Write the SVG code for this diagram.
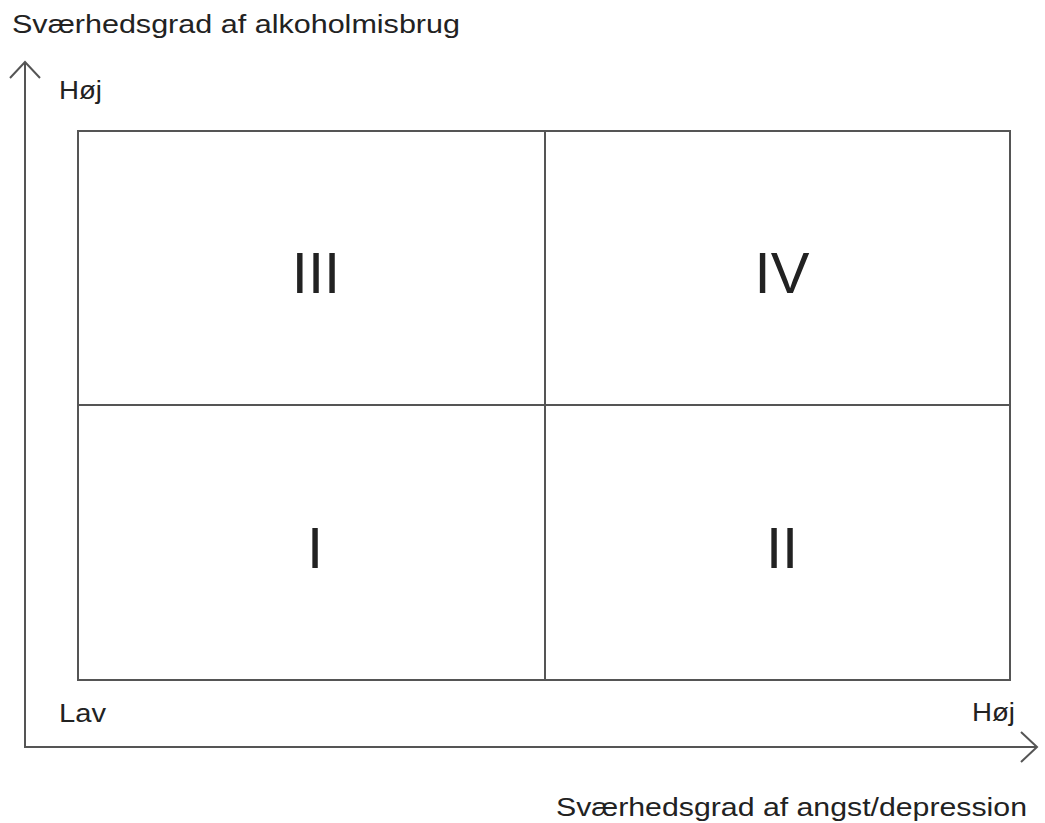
<svg xmlns="http://www.w3.org/2000/svg" width="1045" height="823" viewBox="0 0 1045 823">
<style>
text{font-family:"Liberation Sans",Arial,sans-serif;fill:#222}
.lbl{font-size:26px}
.num{font-size:58px;text-anchor:middle}
.ln{stroke:#555;stroke-width:2;fill:none}
</style>
<rect width="1045" height="823" fill="#fff"/>
<g id="connectors">
<polyline class="ln" points="25,62 25,747 1037,747"/>
<polyline class="ln" points="10,78 25,62 40,78"/>
<polyline class="ln" points="1021,732 1037,747 1021,762"/>
</g>
<g id="grid">
<rect class="ln" x="78" y="131" width="932" height="549"/>
<line class="ln" x1="545" y1="131" x2="545" y2="680"/>
<line class="ln" x1="78" y1="405" x2="1010" y2="405"/>
</g>
<g id="q3"><text class="num" x="316" y="293">III</text></g>
<g id="q4"><text class="num" x="782" y="293">IV</text></g>
<g id="q1"><text class="num" x="315" y="568">I</text></g>
<g id="q2"><text class="num" x="782" y="568">II</text></g>
<g id="labels">
<text class="lbl" x="12" y="33" textLength="448" lengthAdjust="spacingAndGlyphs">Sværhedsgrad af alkoholmisbrug</text>
<text class="lbl" x="59" y="99" textLength="43" lengthAdjust="spacingAndGlyphs">Høj</text>
<text class="lbl" x="59" y="722" textLength="47" lengthAdjust="spacingAndGlyphs">Lav</text>
<text class="lbl" x="972" y="721" textLength="43" lengthAdjust="spacingAndGlyphs">Høj</text>
<text class="lbl" x="556" y="816" textLength="471" lengthAdjust="spacingAndGlyphs">Sværhedsgrad af angst/depression</text>
</g>
</svg>
